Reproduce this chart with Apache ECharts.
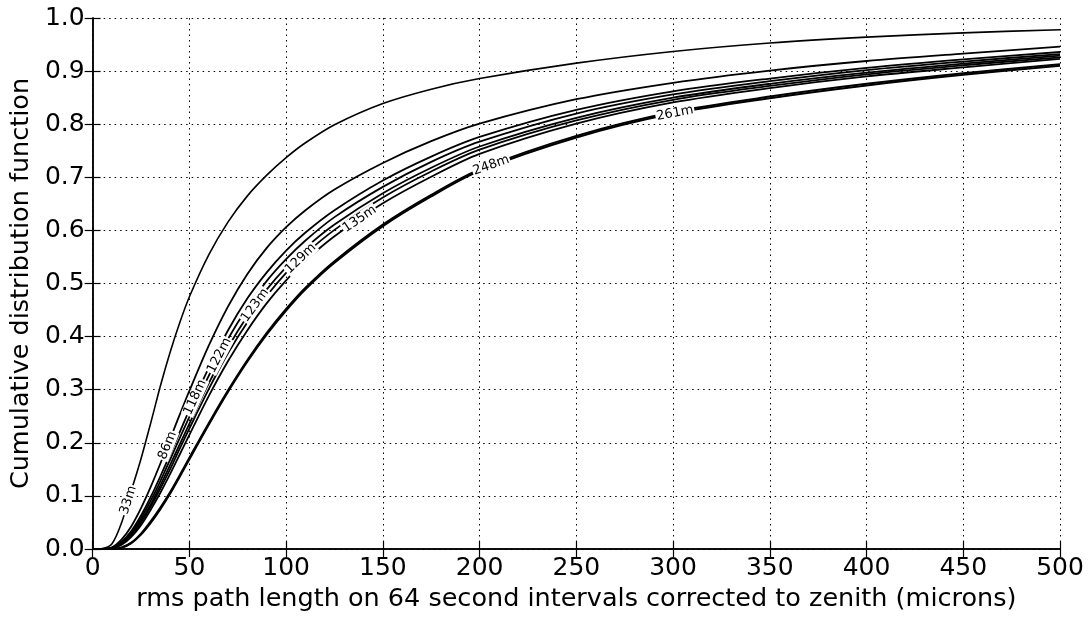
<!DOCTYPE html>
<html>
<head>
<meta charset="utf-8">
<script src="https://cdn.jsdelivr.net/npm/echarts@6/dist/echarts.min.js"></script>
<style>
html,body{margin:0;padding:0;background:#fff;}
#chart{width:1088px;height:617px;}
</style>
</head>
<body>
<div id="chart"></div>
<script>
// x grid (microns)
const xs = [0,5,10,15,20,25,30,35,40,45,50,60,70,80,90,100,110,125,150,175,200,250,300,350,400,450,500];
const names = ['33m','86m','118m','122m','123m','129m','135m','248m','261m'];
const cdf33  = [0,0.001,0.01,0.05,0.11,0.17,0.237,0.307,0.37,0.426,0.475,0.554,0.616,0.665,0.704,0.737,0.765,0.799,0.839,0.866,0.886,0.915,0.937,0.953,0.964,0.972,0.978];
const cdf86  = [0,0,0.003,0.018,0.043,0.077,0.117,0.161,0.207,0.253,0.298,0.383,0.457,0.518,0.567,0.606,0.638,0.677,0.727,0.768,0.801,0.847,0.878,0.901,0.919,0.933,0.946];
const cdf118 = [0,0,0.002,0.014,0.034,0.063,0.098,0.137,0.178,0.22,0.262,0.341,0.412,0.472,0.521,0.562,0.596,0.638,0.694,0.739,0.776,0.827,0.862,0.886,0.906,0.922,0.936];
const cdf122 = [0,0,0.002,0.012,0.031,0.058,0.091,0.128,0.168,0.209,0.249,0.326,0.396,0.455,0.505,0.546,0.581,0.625,0.682,0.729,0.767,0.82,0.856,0.881,0.902,0.918,0.932];
const cdf123 = [0,0,0.002,0.011,0.028,0.053,0.084,0.12,0.158,0.197,0.236,0.312,0.38,0.439,0.489,0.531,0.567,0.611,0.67,0.718,0.758,0.812,0.85,0.876,0.897,0.914,0.929];
const cdf129 = [0,0,0.001,0.01,0.025,0.05,0.08,0.114,0.15,0.189,0.227,0.301,0.369,0.427,0.477,0.52,0.556,0.601,0.662,0.711,0.752,0.807,0.846,0.872,0.894,0.911,0.926];
const cdf135 = [0,0,0.001,0.008,0.023,0.045,0.074,0.106,0.141,0.178,0.215,0.288,0.354,0.412,0.463,0.506,0.543,0.589,0.651,0.701,0.744,0.801,0.841,0.868,0.89,0.907,0.923];
const cdf248 = [0,0,0,0.003,0.012,0.029,0.052,0.078,0.107,0.139,0.172,0.237,0.299,0.356,0.407,0.452,0.492,0.542,0.611,0.667,0.715,0.778,0.823,0.852,0.876,0.896,0.913];
const cdf261 = [0,0,0,0.0025,0.011,0.027,0.049,0.075,0.104,0.136,0.169,0.234,0.296,0.353,0.404,0.449,0.489,0.539,0.608,0.664,0.712,0.775,0.82,0.849,0.873,0.893,0.91];
// x position (microns) along each curve where its inline label sits
const labelX = [18.5, 38.7, 53, 65.5, 84, 107.5, 138, 206, 301];
const xTicks = [0,50,100,150,200,250,300,350,400,450,500];

const allCdf = [cdf33,cdf86,cdf118,cdf122,cdf123,cdf129,cdf135,cdf248,cdf261];
const widths = [1.6,1.8,1.8,1.8,1.8,1.8,1.8,2,2];
const FONT = 'DejaVu Sans';

const chart = echarts.init(document.getElementById('chart'), null, {renderer:'canvas'});

function axisCommon(){
  return {
    axisLine:{show:true,lineStyle:{color:'#000',width:1.5}},
    axisTick:{show:true,inside:true,length:8,lineStyle:{color:'#000',width:1.2}}
  };
}
const gridLine = {show:true,lineStyle:{color:'#000',type:[1.5,4],width:1}};

const option = {
  animation:false,
  backgroundColor:'#fff',
  grid:{left:92,right:28,top:18,bottom:65},
  xAxis:[
    Object.assign({type:'value',min:0,max:500,interval:50,position:'bottom',
      axisLabel:{color:'#000',fontSize:25,fontFamily:FONT,margin:7,showMinLabel:true,showMaxLabel:true},
      splitLine:gridLine,
      name:'rms path length on 64 second intervals corrected to zenith (microns)',
      nameLocation:'middle',nameGap:37,
      nameTextStyle:{color:'#000',fontSize:25.5,fontFamily:FONT}
    }, axisCommon()),
    Object.assign({type:'value',min:0,max:500,interval:50,position:'top',
      axisLabel:{show:false},splitLine:{show:false}}, axisCommon())
  ],
  yAxis:[
    Object.assign({type:'value',min:0,max:1,interval:0.1,position:'left',
      axisLabel:{color:'#000',fontSize:25,fontFamily:FONT,margin:8,formatter:v=>v.toFixed(1),showMinLabel:true,showMaxLabel:true},
      splitLine:gridLine,
      name:'Cumulative distribution function',
      nameLocation:'middle',nameGap:45,
      nameTextStyle:{color:'#000',fontSize:25.5,fontFamily:FONT}
    }, axisCommon()),
    Object.assign({type:'value',min:0,max:1,interval:0.1,position:'right',
      axisLabel:{show:false},splitLine:{show:false}}, axisCommon())
  ],
  series: names.map((n,k)=>({
    name:n,type:'line',xAxisIndex:0,yAxisIndex:0,
    data: xs.map((x,i)=>[x, allCdf[k][i]]),
    showSymbol:false,smooth:0.3,
    lineStyle:{color:'#000',width:widths[k]},
    z:2
  }))
};
chart.setOption(option);

function interp(arr, x){
  for (let i=0;i<xs.length-1;i++){
    if (x>=xs[i] && x<=xs[i+1]){
      const t=(x-xs[i])/(xs[i+1]-xs[i]);
      return arr[i]+t*(arr[i+1]-arr[i]);
    }
  }
  return arr[arr.length-1];
}

const seriesUpd = names.map((n,k)=>{
  const lx = labelX[k];
  const ly = interp(allCdf[k], lx);
  const p1 = chart.convertToPixel({gridIndex:0},[lx-4, interp(allCdf[k], lx-4)]);
  const p2 = chart.convertToPixel({gridIndex:0},[lx+4, interp(allCdf[k], lx+4)]);
  const ang = Math.atan2(-(p2[1]-p1[1]), p2[0]-p1[0])*180/Math.PI;
  return {
    markPoint:{
      symbol:'circle',symbolSize:0,silent:true,animation:false,
      data:[{coord:[lx,ly],value:n}],
      label:{show:true,formatter:n,rotate:ang,position:'inside',
        fontSize:13,fontFamily:FONT,color:'#000',
        backgroundColor:'#fff',padding:[0,1]}
    }
  };
});
chart.setOption({series:seriesUpd});
</script>
</body>
</html>
